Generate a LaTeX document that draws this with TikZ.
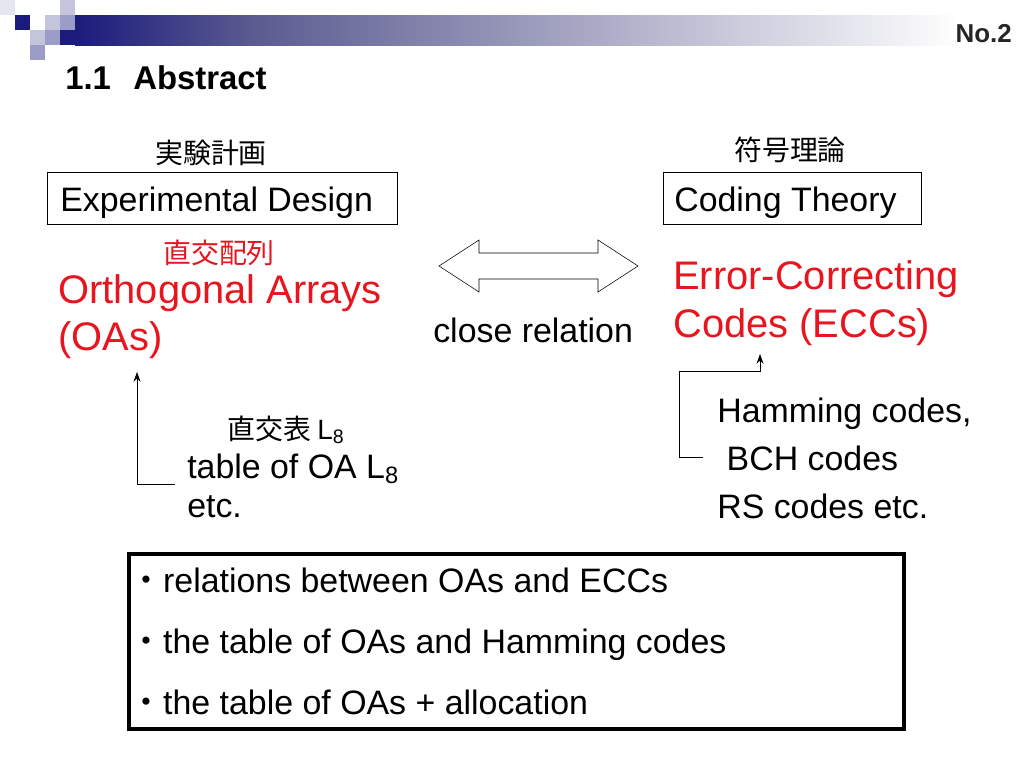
\documentclass[tikz,border=0pt]{standalone}
\usepackage{fontspec}
\setmainfont{Liberation Sans}
\newfontfamily\jp{Noto Sans CJK JP}
\usetikzlibrary{positioning,arrows.meta}
\definecolor{navy}{HTML}{1B1B7D}
\definecolor{midblue}{HTML}{5A5A90}
\definecolor{lightsq}{HTML}{C4C4DC}
\definecolor{medsq}{HTML}{9C9CC8}
\definecolor{palesq}{HTML}{E6E6F0}
\definecolor{redtext}{HTML}{E8141E}
\newcommand{\px}[1]{\fontsize{\dimexpr #1pt*72/100\relax}{\dimexpr #1pt*72/100\relax}\selectfont}
\newcommand{\dotjp}{{\jp ・}}
\tikzset{
		txt/.style={inner sep=0pt,anchor=base west,font=\px{34}},
		big/.style={inner sep=0pt,anchor=base west,font=\px{40},text=redtext},
		kanji/.style={inner sep=0pt,font=\jp\px{28}},
		link/.style={-{Stealth[length=7pt,width=5pt]},semithick},
		}

\begin{document}
\begin{tikzpicture}[x=0.01in,y=-0.01in]
	\useasboundingbox (0,0) rectangle (1024,768);
	%HEADER squares and bar
	\fill[palesq] (0,0) rectangle (15,15);
	\fill[navy] (15,15) rectangle (30,30);
	\fill[lightsq] (60,0) rectangle (75,15);
	\fill[lightsq] (45,15) rectangle (60,30);
	\fill[medsq] (60,15) rectangle (75,30);
	\fill[lightsq] (30,30) rectangle (45,45);
	\fill[medsq] (45,30) rectangle (60,45);
	\fill[medsq] (30,45) rectangle (45,60);
	\fill[navy] (60,30) rectangle (75,45);
	\shade[left color=navy,right color=midblue] (75,15) rectangle (250,45);
	\shade[left color=midblue,right color=white] (249.5,15) rectangle (960,45);
	\node[anchor=base east,inner sep=0pt,font=\bfseries\px{26},text=black!85] (pageno) at (1012,42) {No.2};
	\node[anchor=base west,inner sep=0pt,font=\bfseries\px{33}] (secno) at (65,89) {1.1};
	\node[anchor=base west,inner sep=0pt,font=\bfseries\px{33}] (sectitle) at (133,89) {Abstract};
	%LEFT side
	\node[kanji] (edjp) at (211,153) {実験計画};
	\draw[thin] (47,172) rectangle (397,224);
	\node[txt] (ed) at (60,211) {Experimental Design};
	\node[kanji,text=redtext] (oajp) at (219,253) {直交配列};
	\node[big] (oa) at (58,303) {Orthogonal Arrays};
	\node[big] (oas) at (58,350) {(OAs)};
	\node[kanji] (l8jp) at (286,430) {直交表 \rmfamily L\textsubscript{8}};
	\node[txt] (tab) at (187,478) {table of OA L\textsubscript{8}};
	\node[txt] (tabetc) at (187,517) {etc.};
	\coordinate (lfoot) at (175,484);
	\coordinate (lcorner) at (137,484);
	\coordinate (ltip) at (137,372);
	\draw[link] (lfoot) -- (lcorner) -- (ltip);
	%RIGHT side
	\node[kanji] (ctjp) at (790,150) {符号理論};
	\draw[thin] (663,172) rectangle (921,224);
	\node[txt] (ct) at (674,211) {Coding Theory};
	\node[big] (ecc) at (673,289) {Error-Correcting};
	\node[big] (eccs) at (673,337) {Codes (ECCs)};
	\node[txt] (ham) at (717,422) {Hamming codes,};
	\node[txt] (bch) at (717,470) {\ BCH codes};
	\node[txt] (rs) at (717,518) {RS codes etc.};
	\coordinate (rfoot) at (703,457);
	\coordinate (rc1) at (679,457);
	\coordinate (rc2) at (679,371);
	\coordinate (rc3) at (760,371);
	\coordinate (rtip) at (760,354);
	\draw[link] (rfoot) -- (rc1) -- (rc2) -- (rc3) -- (rtip);
	%DOUBLE ARROW
	\draw[thin,fill=white] (439,266) -- (479,240) -- (479,253) -- (598,253) -- (598,240)
		-- (638,266) -- (598,292) -- (598,279) -- (479,279) -- (479,292) -- cycle;
	\node[txt] (rel) at (433,342) {close relation};
	%SUMMARY box
	\draw[line width=2.2pt] (129,554) rectangle (904,729);
	\node[txt] (s1) at (129,592) {\dotjp relations between OAs and ECCs};
	\node[txt] (s2) at (129,653) {\dotjp the table of OAs and Hamming codes};
	\node[txt] (s3) at (129,714) {\dotjp the table of OAs + allocation};
\end{tikzpicture}
\end{document}
